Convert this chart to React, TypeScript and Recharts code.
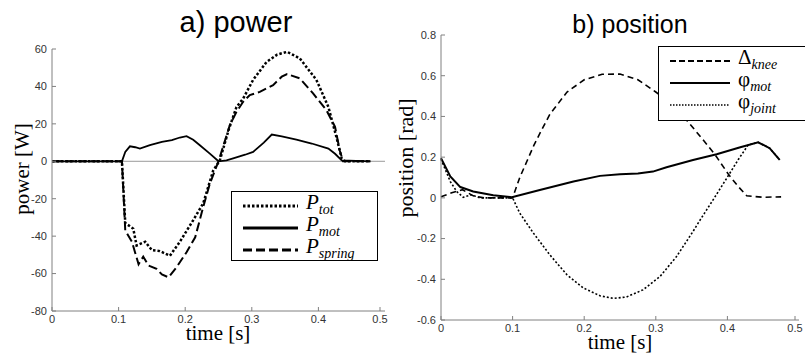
import React from "react";
import { LineChart, Line, XAxis, YAxis, ReferenceLine, Legend } from "recharts";

// a) power
const tTot = [0, 0.105, 0.11, 0.122, 0.127, 0.14, 0.15, 0.162, 0.177, 0.192, 0.212, 0.227, 0.242, 0.252, 0.265, 0.277, 0.287, 0.302, 0.322, 0.338, 0.353, 0.372, 0.397, 0.415, 0.427, 0.435, 0.44, 0.478];
const pTot = [0, 0, -33, -36, -45, -43, -47.5, -48, -50.5, -43, -31.5, -22.5, -5, 0.5, 16.5, 29, 33.5, 43.5, 53, 57, 58.5, 55, 43.5, 29, 13, 1.5, 0, 0];

const tMot = [0, 0.105, 0.11, 0.117, 0.125, 0.132, 0.147, 0.165, 0.18, 0.192, 0.202, 0.212, 0.222, 0.237, 0.25, 0.262, 0.272, 0.29, 0.302, 0.318, 0.33, 0.345, 0.367, 0.39, 0.415, 0.425, 0.435, 0.478];
const pMot = [0, 0, 5, 8, 7.5, 6.8, 8.6, 10.4, 11.3, 12.7, 13.4, 11.5, 8.6, 4.1, 0, 0.5, 1.6, 3.5, 5, 10, 14.3, 13.3, 11.6, 9.5, 6.8, 4, 0.5, 0];

const tSpr = [0, 0.105, 0.11, 0.12, 0.13, 0.137, 0.145, 0.157, 0.165, 0.175, 0.187, 0.202, 0.215, 0.227, 0.237, 0.25, 0.267, 0.277, 0.287, 0.297, 0.312, 0.332, 0.345, 0.353, 0.372, 0.392, 0.412, 0.425, 0.432, 0.437, 0.478];
const pSpr = [0, 0, -37, -43, -55, -51, -55.7, -57.5, -60.5, -62, -56.6, -48.6, -40.6, -24.5, -12, 0, 19.3, 26.4, 31.8, 35.4, 37.1, 40.7, 45.2, 46.6, 44.3, 36.3, 27.3, 18.4, 5.9, 0, 0];

const powerXTicks = [0, 0.1, 0.2, 0.3, 0.4, 0.5];
const powerYTicks = [-80, -60, -40, -20, 0, 20, 40, 60];

// b) position
const tKnee = [0, 0.015, 0.03, 0.045, 0.06, 0.1, 0.11, 0.12, 0.13, 0.14, 0.152, 0.176, 0.2, 0.225, 0.25, 0.275, 0.3, 0.325, 0.345, 0.366, 0.383, 0.402, 0.415, 0.427, 0.45, 0.475];
const knee = [0.005, 0.025, 0.04, 0.01, 0, 0, 0.1, 0.18, 0.26, 0.33, 0.41, 0.52, 0.58, 0.607, 0.608, 0.58, 0.52, 0.45, 0.374, 0.285, 0.211, 0.113, 0.056, 0.01, 0.003, 0.005];

const tPhiMot = [0, 0.013, 0.027, 0.045, 0.073, 0.099, 0.138, 0.185, 0.222, 0.25, 0.275, 0.296, 0.315, 0.352, 0.385, 0.418, 0.443, 0.459, 0.473];
const phiMot = [0.195, 0.105, 0.053, 0.031, 0.013, 0.003, 0.039, 0.08, 0.108, 0.116, 0.12, 0.129, 0.15, 0.186, 0.214, 0.249, 0.273, 0.244, 0.187];

const tJoint = [0, 0.013, 0.022, 0.031, 0.043, 0.054, 0.1, 0.11, 0.129, 0.152, 0.176, 0.199, 0.222, 0.241, 0.259, 0.282, 0.306, 0.329, 0.352, 0.362, 0.38, 0.402, 0.415, 0.429, 0.443, 0.459, 0.473];
const phiJoint = [0.19, 0.08, 0.031, 0.003, 0.015, 0, 0, -0.075, -0.173, -0.28, -0.378, -0.443, -0.481, -0.494, -0.487, -0.452, -0.386, -0.288, -0.165, -0.108, -0.01, 0.113, 0.187, 0.26, 0.273, 0.244, 0.187];

const posXTicks = [0, 0.1, 0.2, 0.3, 0.4, 0.5];
const posYTicks = [-0.6, -0.4, -0.2, 0, 0.2, 0.4, 0.6, 0.8];

const zip = (t: number[], v: number[]) => t.map((x, i) => ({ t: x, v: v[i] }));

const AXIS = "#808080";
const SANS = "'Liberation Sans', Arial, sans-serif";
const SERIF = "'Liberation Serif', 'Times New Roman', serif";

const YTick = (props: any) => {
  const { x, y, payload } = props;
  const ax = x + 6;
  return (
    <g>
      <line x1={ax} x2={ax + 4} y1={y} y2={y} stroke={AXIS} />
      <text x={ax - 5} y={y} dy="0.35em" textAnchor="end" fontSize={11} fontFamily={SANS} fill="#333">
        {String(payload.value)}
      </text>
    </g>
  );
};

const XTick = (props: any) => {
  const { x, y, payload } = props;
  const ay = y - 6;
  return (
    <g>
      <line x1={x} x2={x} y1={ay} y2={ay - 4} stroke={AXIS} />
      <text x={x} y={ay + 4} dy="0.71em" textAnchor="middle" fontSize={11} fontFamily={SANS} fill="#333">
        {String(payload.value)}
      </text>
    </g>
  );
};

type Item = { dash?: string; width: number; main: string; sub: string; italic: boolean };

const LegendBox = ({ items, lineW }: { items: Item[]; lineW: number }) => (
  <div style={{ border: "1.5px solid #000", background: "#fff", boxSizing: "border-box", width: "100%", height: "100%", padding: "3px 0 0 11px" }}>
    {items.map((it) => (
      <div key={it.sub} style={{ display: "flex", alignItems: "center", height: 22 }}>
        <svg width={lineW} height={8} style={{ marginRight: 8 }}>
          <line x1={0} x2={lineW} y1={4} y2={4} stroke="#000" strokeWidth={it.width} strokeDasharray={it.dash} />
        </svg>
        <span style={{ fontFamily: SERIF, fontSize: 21, fontStyle: it.italic ? "italic" : "normal", lineHeight: "20px" }}>
          {it.main}
          <sub style={{ fontSize: 14, fontStyle: "italic" }}>{it.sub}</sub>
        </span>
      </div>
    ))}
  </div>
);

const powerItems: Item[] = [
  { dash: "2.5 2", width: 3, main: "P", sub: "tot", italic: true },
  { width: 3, main: "P", sub: "mot", italic: true },
  { dash: "9 4", width: 3, main: "P", sub: "spring", italic: true },
];

const posItems: Item[] = [
  { dash: "6 3", width: 2, main: "Δ", sub: "knee", italic: false },
  { width: 2, main: "φ", sub: "mot", italic: false },
  { dash: "1.5 1.5", width: 1.5, main: "φ", sub: "joint", italic: false },
];

const title = (size: number, cx: number): React.CSSProperties => ({
  position: "absolute", left: cx - 150, width: 300, top: 35 - size * 0.93, textAlign: "center",
  fontFamily: SANS, fontSize: size, lineHeight: 1,
});

export default function App() {
  return (
    <div style={{ position: "fixed", left: 0, top: 0, width: 805, height: 354, background: "#fff", overflow: "hidden" }}>
      <div style={title(29, 236)}>a) power</div>
      <div style={title(25, 630)}>b) position</div>

      <div style={{ position: "absolute", left: 0, top: 0 }}>
        <LineChart width={390} height={354} margin={{ top: 49, right: 5, bottom: 13, left: 12 }}>
          <XAxis
            type="number" dataKey="t" domain={[0, 0.5]} ticks={powerXTicks} height={30}
            stroke={AXIS} tickLine={false} tickSize={4} tickMargin={2} tick={<XTick />}
            label={{ content: () => <text x={218} y={340} textAnchor="middle" fontFamily={SERIF} fontSize={21}>time [s]</text> }}
          />
          <YAxis
            type="number" domain={[-80, 60]} ticks={powerYTicks} width={40}
            stroke={AXIS} tickLine={false} tickSize={4} tickMargin={2} tick={<YTick />}
            label={{ content: () => <text transform="translate(29,169) rotate(-90)" textAnchor="middle" fontFamily={SERIF} fontSize={21}>power [W]</text> }}
          />
          <ReferenceLine y={0} stroke="#999" strokeWidth={1} />
          <Line data={zip(tMot, pMot)} dataKey="v" stroke="#000" strokeWidth={1.8} dot={false} isAnimationActive={false} />
          <Line data={zip(tSpr, pSpr)} dataKey="v" stroke="#000" strokeWidth={2} strokeDasharray="9 4" dot={false} isAnimationActive={false} />
          <Line data={zip(tTot, pTot)} dataKey="v" stroke="#000" strokeWidth={2.5} strokeDasharray="2.5 2" dot={false} isAnimationActive={false} />
          <Legend
            layout="vertical" align="center" verticalAlign="middle"
            wrapperStyle={{ left: 231, top: 191, width: 147, height: 70 }}
            content={() => <LegendBox items={powerItems} lineW={55} />}
          />
        </LineChart>
      </div>

      <div style={{ position: "absolute", left: 390, top: 0 }}>
        <LineChart width={415} height={354} margin={{ top: 35, right: 6, bottom: 9, left: 16 }}>
          <XAxis
            type="number" dataKey="t" domain={[0, 0.5]} ticks={posXTicks} height={25}
            stroke={AXIS} tickLine={false} tickSize={4} tickMargin={2} tick={<XTick />}
            label={{ content: () => <text x={230} y={349} textAnchor="middle" fontFamily={SERIF} fontSize={21}>time [s]</text> }}
          />
          <YAxis
            type="number" domain={[-0.6, 0.8]} ticks={posYTicks} width={35}
            stroke={AXIS} tickLine={false} tickSize={4} tickMargin={2} tick={<YTick />}
            label={{ content: () => <text transform="translate(23,158) rotate(-90)" textAnchor="middle" fontFamily={SERIF} fontSize={22}>position [rad]</text> }}
          />
          <Line data={zip(tKnee, knee)} dataKey="v" stroke="#000" strokeWidth={1.6} strokeDasharray="6 4" dot={false} isAnimationActive={false} />
          <Line data={zip(tPhiMot, phiMot)} dataKey="v" stroke="#000" strokeWidth={2} dot={false} isAnimationActive={false} />
          <Line data={zip(tJoint, phiJoint)} dataKey="v" stroke="#000" strokeWidth={1.6} strokeDasharray="2 2" dot={false} isAnimationActive={false} />
          <Legend
            layout="vertical" align="center" verticalAlign="middle"
            wrapperStyle={{ left: 268, top: 46, width: 160, height: 75 }}
            content={() => <LegendBox items={posItems} lineW={60} />}
          />
        </LineChart>
      </div>
    </div>
  );
}
